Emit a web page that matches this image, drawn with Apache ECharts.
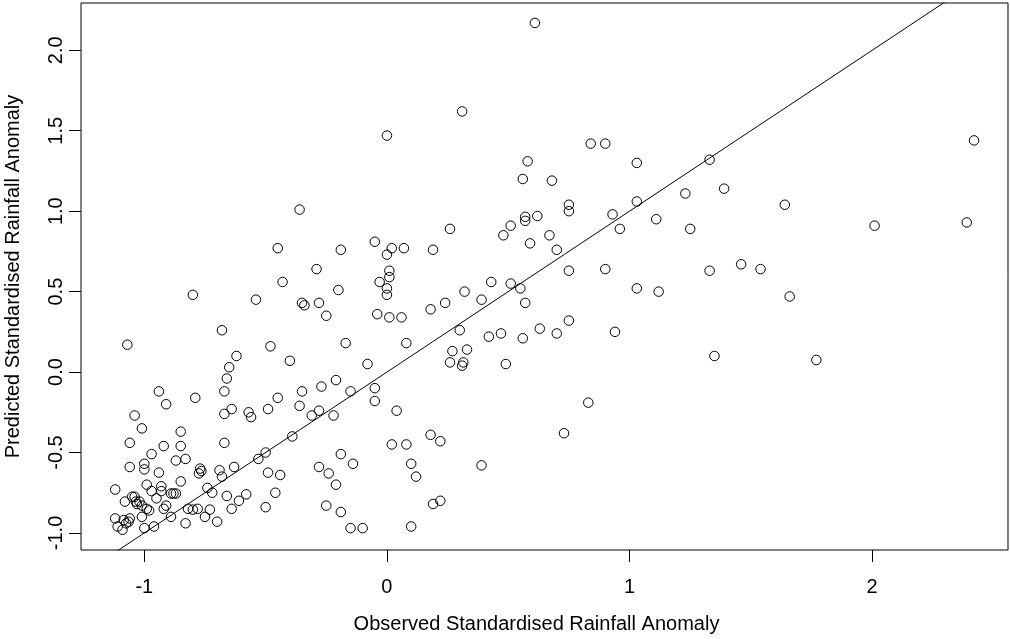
<!DOCTYPE html>
<html>
<head>
<meta charset="utf-8">
<script src="https://cdn.jsdelivr.net/npm/echarts@6/dist/echarts.min.js"></script>
<style>
  html, body { margin: 0; padding: 0; background: #fff; }
  #chart { width: 1010px; height: 639px; }
</style>
</head>
<body>
<div id="chart"></div>
<script>
// Observed vs predicted standardised rainfall anomaly
const observed = [
  0.61, 0.31, 0.00, 0.84, 0.90, 0.58, 1.03, 0.56, 0.68, 0.75,
  0.75, 1.03, 0.93, 0.96, 1.11, 0.57, 0.57, 0.62, 0.51, 0.48,
  0.67, 0.59, 0.70, 0.26, -0.36, -0.19, -0.05, 0.00, 0.02, 0.07,
  0.19, -0.29, -0.20, -0.03, 0.01, 0.01, 0.00, 0.00, 0.75, 0.90,
  1.03, 1.12, 0.43, 0.51, 0.55, 0.32, 0.39, 0.24, 0.57, -0.35,
  -0.34, -0.28, -0.25, -0.04, 0.01, 0.06, 0.18, -0.17, 0.08, 0.30,
  0.27, 0.33, 0.26, 0.315, 0.31, 0.42, 0.47, 0.56, 0.63, 0.70,
  0.75, 0.94, 0.49, -0.08, -0.35, -0.27, -0.21, -0.15, -0.05, -0.05,
  -0.36, -0.28, -0.31, -0.22, 0.04, 0.02, 0.08, 0.18, 0.22, -0.19,
  -0.28, -0.24, -0.21, -0.14, 0.10, 0.12, 0.39, 0.73, 0.83, -0.25,
  -0.19, -0.15, -0.10, 0.10, 0.19, 0.22, 1.33, 2.42, 1.23, 1.39,
  1.25, 1.64, 2.01, 2.39, 1.33, 1.46, 1.54, 1.66, 1.35, 1.77,
  -0.54, -0.80, -0.45, -0.43, -1.07, -0.68, -0.48, -0.62, -0.40, -0.65,
  -0.66, -0.67, -0.94, -0.91, -0.79, -0.45, -0.64, -0.67, -0.57, -0.56,
  -0.49, -1.04, -1.06, -1.01, -0.85, -0.92, -0.85, -0.97, -0.87, -0.83,
  -1.06, -1.00, -1.00, -0.94, -0.85, -0.77, -0.775, -0.765, -0.67, -0.69,
  -0.68, -0.63, -0.53, -0.50, -0.49, -0.44, -0.39,
  -1.12, -1.08, -1.05, -1.04, -1.035, -1.03, -1.02, -1.01, -0.99, -0.98,
  -1.01, -1.00, -0.96, -0.99, -0.97, -0.95, -0.93, -0.93, -0.92, -0.91,
  -0.89, -0.88, -0.87, -0.89, -1.12, -1.11, -1.09, -1.085, -1.065, -1.075,
  -1.06, -0.83, -0.82, -0.80, -0.78, -0.75, -0.73, -0.70, -0.74, -0.72,
  -0.66, -0.64, -0.61, -0.58, -0.50, -0.46
];
const predicted = [
  2.17, 1.62, 1.47, 1.42, 1.42, 1.31, 1.30, 1.20, 1.19, 1.04,
  1.00, 1.06, 0.98, 0.89, 0.95, 0.965, 0.94, 0.97, 0.91, 0.85,
  0.85, 0.80, 0.76, 0.89, 1.01, 0.76, 0.81, 0.73, 0.77, 0.77,
  0.76, 0.64, 0.51, 0.56, 0.63, 0.59, 0.52, 0.48, 0.63, 0.64,
  0.52, 0.50, 0.56, 0.55, 0.52, 0.50, 0.45, 0.43, 0.43, 0.43,
  0.415, 0.43, 0.35, 0.36, 0.34, 0.34, 0.39, 0.18, 0.18, 0.26,
  0.13, 0.14, 0.06, 0.06, 0.04, 0.22, 0.24, 0.21, 0.27, 0.24,
  0.32, 0.25, 0.05, 0.05, -0.12, -0.09, -0.05, -0.12, -0.10, -0.18,
  -0.21, -0.24, -0.27, -0.27, -0.24, -0.45, -0.45, -0.39, -0.43, -0.51,
  -0.59, -0.63, -0.70, -0.57, -0.57, -0.65, -0.58, -0.38, -0.19, -0.83,
  -0.87, -0.97, -0.97, -0.96, -0.82, -0.80, 1.32, 1.44, 1.11, 1.14,
  0.89, 1.04, 0.91, 0.93, 0.63, 0.67, 0.64, 0.47, 0.10, 0.075,
  0.45, 0.48, 0.77, 0.56, 0.17, 0.26, 0.16, 0.10, 0.07, 0.03,
  -0.04, -0.12, -0.12, -0.20, -0.16, -0.16, -0.23, -0.26, -0.25, -0.28,
  -0.23, -0.27, -0.44, -0.35, -0.37, -0.46, -0.46, -0.51, -0.55, -0.54,
  -0.59, -0.57, -0.605, -0.625, -0.68, -0.60, -0.63, -0.615, -0.44, -0.61,
  -0.65, -0.59, -0.54, -0.50, -0.625, -0.64, -0.40,
  -0.73, -0.805, -0.775, -0.775, -0.805, -0.82, -0.805, -0.83, -0.85, -0.86,
  -0.90, -0.97, -0.96, -0.70, -0.74, -0.785, -0.74, -0.71, -0.85, -0.83,
  -0.755, -0.755, -0.755, -0.90, -0.91, -0.96, -0.98, -0.92, -0.93, -0.94,
  -0.91, -0.94, -0.85, -0.855, -0.85, -0.90, -0.855, -0.93, -0.72, -0.75,
  -0.77, -0.85, -0.80, -0.76, -0.84, -0.75
];

// 1:1 reference line endpoints (observed = predicted)
const oneToOne = [-1.3, 2.6];

const xTicks = [-1, 0, 1, 2];
const yTicks = [-1.0, -0.5, 0.0, 0.5, 1.0, 1.5, 2.0];

const xRange = [-1.261, 2.560];
const yRange = [-1.106, 2.294];

const points = observed.map((v, i) => [v, predicted[i]]);
const lineData = oneToOne.map(v => [v, v]);

const FONT = '"Liberation Sans", Arial, Helvetica, sans-serif';
const chart = echarts.init(document.getElementById('chart'), null, { renderer: 'canvas' });

chart.setOption({
  animation: false,
  backgroundColor: '#ffffff',
  textStyle: { fontFamily: FONT, color: '#000' },
  grid: {
    left: 81, right: 2, top: 3, bottom: 89,
    containLabel: false,
    outerBoundsMode: 'none',
    show: true, borderColor: '#000', borderWidth: 1, backgroundColor: 'transparent'
  },
  xAxis: {
    type: 'value',
    min: xRange[0], max: xRange[1],
    splitLine: { show: false },
    axisLine: { show: false, onZero: false },
    axisTick: { show: true, customValues: xTicks, length: 12, inside: false,
                lineStyle: { color: '#000', width: 1 } },
    axisLabel: { customValues: xTicks, margin: 27, fontSize: 20, color: '#000',
                 fontFamily: FONT, formatter: v => String(v) },
    name: 'Observed Standardised Rainfall Anomaly',
    nameLocation: 'middle', nameGap: 64,
    nameTextStyle: { fontSize: 20, color: '#000', fontFamily: FONT, padding: [0, 16, 0, 0] }
  },
  yAxis: {
    type: 'value',
    min: yRange[0], max: yRange[1],
    splitLine: { show: false },
    axisLine: { show: false, onZero: false },
    axisTick: { show: true, customValues: yTicks, length: 12, inside: false,
                lineStyle: { color: '#000', width: 1 } },
    axisLabel: { customValues: yTicks, rotate: 90, margin: 15, fontSize: 20, color: '#000',
                 fontFamily: FONT, formatter: v => v.toFixed(1) },
    name: 'Predicted Standardised Rainfall Anomaly',
    nameLocation: 'middle', nameGap: 58, nameRotate: 90,
    nameTextStyle: { fontSize: 20, color: '#000', fontFamily: FONT }
  },
  series: [
    {
      type: 'line',
      data: lineData,
      showSymbol: false,
      symbol: 'none',
      clip: true,
      silent: true,
      lineStyle: { color: '#000', width: 1 },
      z: 3
    },
    {
      type: 'scatter',
      data: points,
      symbol: 'circle',
      symbolSize: 9.5,
      clip: true,
      itemStyle: { color: 'rgba(0,0,0,0)', borderColor: '#000', borderWidth: 1, opacity: 1 },
      emphasis: { disabled: true },
      z: 4
    }
  ]
});
</script>
</body>
</html>
